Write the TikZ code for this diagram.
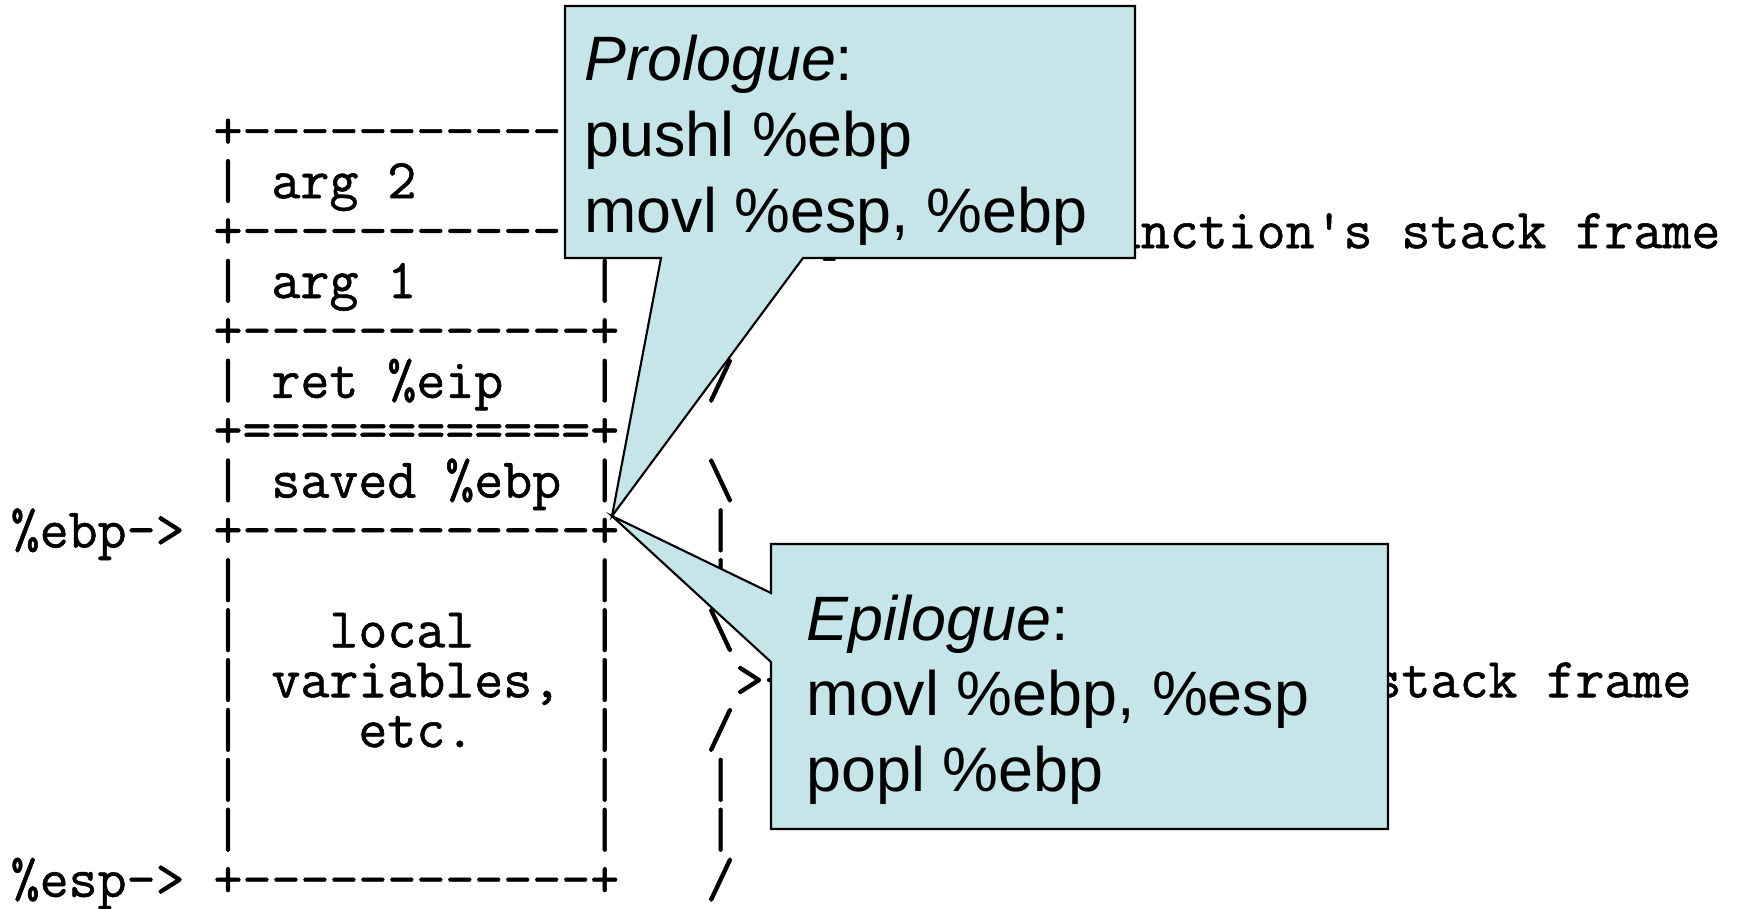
\documentclass[tikz,border=0pt]{standalone}
\usepackage{fontspec}
\setmonofont{Latin Modern Mono}[FakeBold=1]
\newfontfamily\calloutfont{Liberation Sans}
\definecolor{bubblefill}{RGB}{197,229,232}

\begin{document}
\begin{tikzpicture}[x=0.01cm, y=-0.01cm,
        stackrow/.style={font=\ttfamily\fontsize{16}{18}\selectfont, anchor=base west, inner sep=0pt},
        cmd/.style={font=\calloutfont\fontsize{17.85}{21}\selectfont, anchor=base west, inner sep=0pt},
        bubble/.style={fill=bubblefill, draw=black, line width=0.6pt}]
            \useasboundingbox (0,0) rectangle (1745,908);

            % the stack, one text row per line
            \node[stackrow] (r1) at (10, 148.3) {~~~~~~~+------------+~~~|};
            \node[stackrow] (r2) at (10, 198.2) {~~~~~~~|~arg~2~~~~~~|~~~\textbackslash};
            \node[stackrow] (r3) at (10, 248.1) {~~~~~~~+------------+~~~~>-~previous~function's~stack~frame};
            \node[stackrow] (r4) at (10, 298.0) {~~~~~~~|~arg~1~~~~~~|~~~/};
            \node[stackrow] (r5) at (10, 347.9) {~~~~~~~+------------+~~~|};
            \node[stackrow] (r6) at (10, 397.8) {~~~~~~~|~ret~\%eip~~~|~~~/};
            \node[stackrow] (r7) at (10, 447.7) {~~~~~~~+============+};
            \node[stackrow] (r8) at (10, 497.6) {~~~~~~~|~saved~\%ebp~|~~~\textbackslash};
            \node[stackrow] (r9) at (10, 547.5) {\%ebp->~+------------+~~~|};
            \node[stackrow] (r10) at (10, 597.4) {~~~~~~~|~~~~~~~~~~~~|~~~|};
            \node[stackrow] (r11) at (10, 647.3) {~~~~~~~|~~~local~~~~|~~~\textbackslash};
            \node[stackrow] (r12) at (10, 697.2) {~~~~~~~|~variables,~|~~~~>-~current~function's~stack~frame};
            \node[stackrow] (r13) at (10, 747.1) {~~~~~~~|~~~~etc.~~~~|~~~/};
            \node[stackrow] (r14) at (10, 797.0) {~~~~~~~|~~~~~~~~~~~~|~~~|};
            \node[stackrow] (r15) at (10, 846.9) {~~~~~~~|~~~~~~~~~~~~|~~~|};
            \node[stackrow] (r16) at (10, 896.8) {\%esp->~+------------+~~~/};

            % callouts
            \coordinate (tip) at (612, 516);
            \filldraw[bubble] (565,6) -- (1135,6) -- (1135,258) -- (803,258) -- (tip) -- (661,258) -- (565,258) -- cycle;
            \filldraw[bubble] (771,544) -- (1388,544) -- (1388,829) -- (771,829) -- (771,662) -- (tip) -- (771,593) -- cycle;

            \node[cmd] (pro1) at (584, 80) {\textit{Prologue}:};
            \node[cmd] (pro2) at (584, 156.7) {pushl \%ebp};
            \node[cmd] (pro3) at (584, 232.3) {movl \%esp, \%ebp};
            \node[cmd] (epi1) at (806, 640) {\textit{Epilogue}:};
            \node[cmd] (epi2) at (806, 715.7) {movl \%ebp, \%esp};
            \node[cmd] (epi3) at (806, 791.7) {popl \%ebp};
        \end{tikzpicture}
\end{document}
